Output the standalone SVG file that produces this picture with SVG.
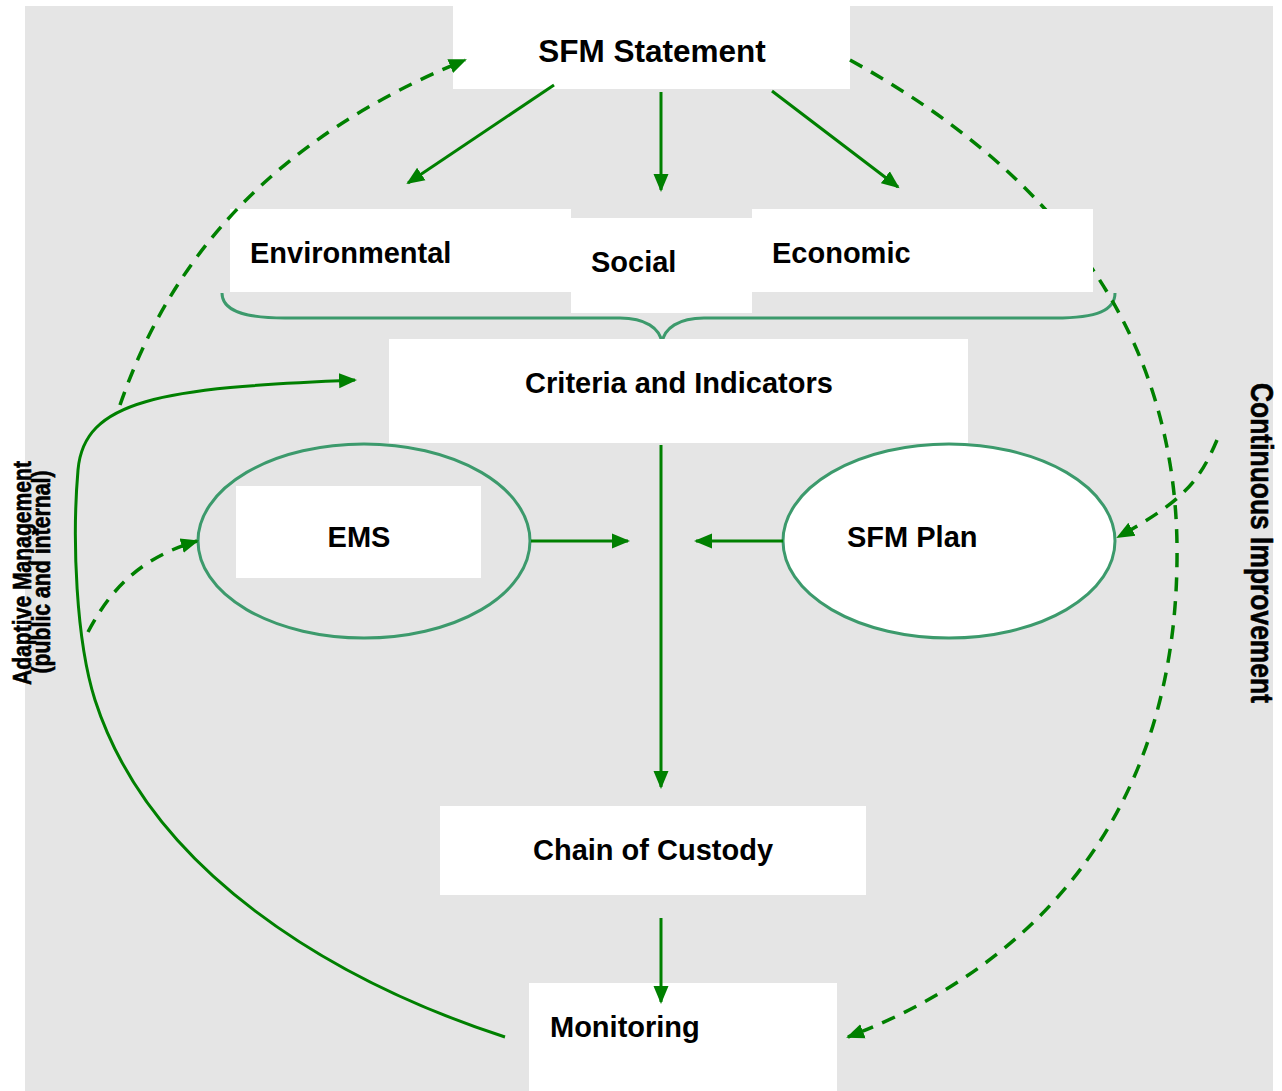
<svg xmlns="http://www.w3.org/2000/svg" width="1282" height="1091" viewBox="0 0 1282 1091">
<defs>
<style>
.box{fill:#ffffff;stroke:none}
.lbl{font-family:"Liberation Sans",Arial,sans-serif;font-weight:bold;font-size:29px;fill:#000}
.rot{stroke:#000;stroke-width:0.6}
.con{fill:none;stroke:#008000;stroke-width:3}
.dash{stroke-width:3.5;stroke-dasharray:14 10}
.sg{fill:none;stroke:#3c9a6c;stroke-width:3}
</style>
<marker id="ah" markerUnits="userSpaceOnUse" markerWidth="19" markerHeight="17" refX="16" refY="8.5" orient="auto" viewBox="0 0 19 17">
<path d="M0,1 L18,8.5 L0,16 z" fill="#008000"/>
</marker>
<clipPath id="noEcon">
<path clip-rule="evenodd" d="M0,0 H1282 V1091 H0 Z M752,209 H1093 V292 H752 Z"/>
</clipPath>
</defs>
<rect x="0" y="0" width="1282" height="1091" fill="#ffffff"/>
<rect x="25" y="6" width="1248" height="1085" fill="#e5e5e5"/>

<g id="sfm-statement">
<rect class="box" x="453" y="6" width="397" height="83"/>
<text class="lbl" x="652" y="62" text-anchor="middle" style="font-size:31.5px">SFM Statement</text>
</g>
<g id="environmental">
<rect class="box" x="230" y="209" width="341" height="83"/>
<text class="lbl" x="250" y="263">Environmental</text>
</g>
<g id="economic">
<rect class="box" x="752" y="209" width="341" height="83"/>
<text class="lbl" x="772" y="263">Economic</text>
</g>
<g id="social">
<rect class="box" x="571" y="218" width="181" height="95"/>
<text class="lbl" x="591" y="272">Social</text>
</g>
<g id="brace">
<path class="sg" d="M222,293 C222,310 242,318 285,318 L620,318 C645,318 660,328 662,343 C664,328 679,318 704,318 L1055,318 C1098,318 1115,310 1115,293"/>
</g>
<g id="criteria">
<rect class="box" x="389" y="339" width="579" height="104"/>
<text class="lbl" x="679" y="393" text-anchor="middle">Criteria and Indicators</text>
</g>
<g id="ems">
<ellipse class="sg" cx="364" cy="541" rx="166" ry="97"/>
<rect class="box" x="236" y="486" width="245" height="92"/>
<text class="lbl" x="359" y="547" text-anchor="middle">EMS</text>
</g>
<g id="sfm-plan">
<ellipse cx="949" cy="541" rx="166" ry="97" fill="#ffffff" stroke="#3c9a6c" stroke-width="3"/>
<text class="lbl" x="847" y="547">SFM Plan</text>
</g>
<g id="chain">
<rect class="box" x="440" y="806" width="426" height="89"/>
<text class="lbl" x="653" y="860" text-anchor="middle">Chain of Custody</text>
</g>
<g id="monitoring">
<rect class="box" x="529" y="983" width="308" height="108"/>
<text class="lbl" x="550" y="1037">Monitoring</text>
</g>
<g id="adaptive-label">
<text class="lbl rot" x="31" y="573" text-anchor="middle" transform="rotate(-90 31 573)" style="font-size:25px" textLength="224" lengthAdjust="spacingAndGlyphs">Adaptive Management</text>
<text class="lbl rot" x="50" y="572" text-anchor="middle" transform="rotate(-90 50 572)" style="font-size:25px" textLength="203" lengthAdjust="spacingAndGlyphs">(public and internal)</text>
</g>
<g id="continuous-label">
<text class="lbl rot" x="1251" y="543" text-anchor="middle" transform="rotate(90 1251 543)" style="font-size:31px" textLength="320" lengthAdjust="spacingAndGlyphs">Continuous Improvement</text>
</g>

<g id="connectors">
<path class="con" d="M554,85 L408,183" marker-end="url(#ah)"/>
<path class="con" d="M661,92 L661,190" marker-end="url(#ah)"/>
<path class="con" d="M772,91 L898,187" marker-end="url(#ah)"/>
<path class="con" d="M661,445 L661,787" marker-end="url(#ah)"/>
<path class="con" d="M531,541 L628,541" marker-end="url(#ah)"/>
<path class="con" d="M783,541 L696,541" marker-end="url(#ah)"/>
<path class="con" d="M661,918 L661,1002" marker-end="url(#ah)"/>
<path class="con" d="M505,1037 C330,980 150,870 95,700 C76,640 72,540 78,470 C84,400 160,388 355,380" marker-end="url(#ah)"/>
<path class="con dash" d="M120,405 C170,260 270,140 465,60" marker-end="url(#ah)"/>
<path class="con dash" d="M88,632 C115,580 150,555 197,541" marker-end="url(#ah)"/>
<path class="con dash" clip-path="url(#noEcon)" d="M850,60 C1050,170 1180,330 1177,560 C1175,800 1050,960 848,1037" marker-end="url(#ah)"/>
<path class="con dash" d="M1217,440 C1200,480 1185,500 1118,537" marker-end="url(#ah)"/>
</g>
</svg>
